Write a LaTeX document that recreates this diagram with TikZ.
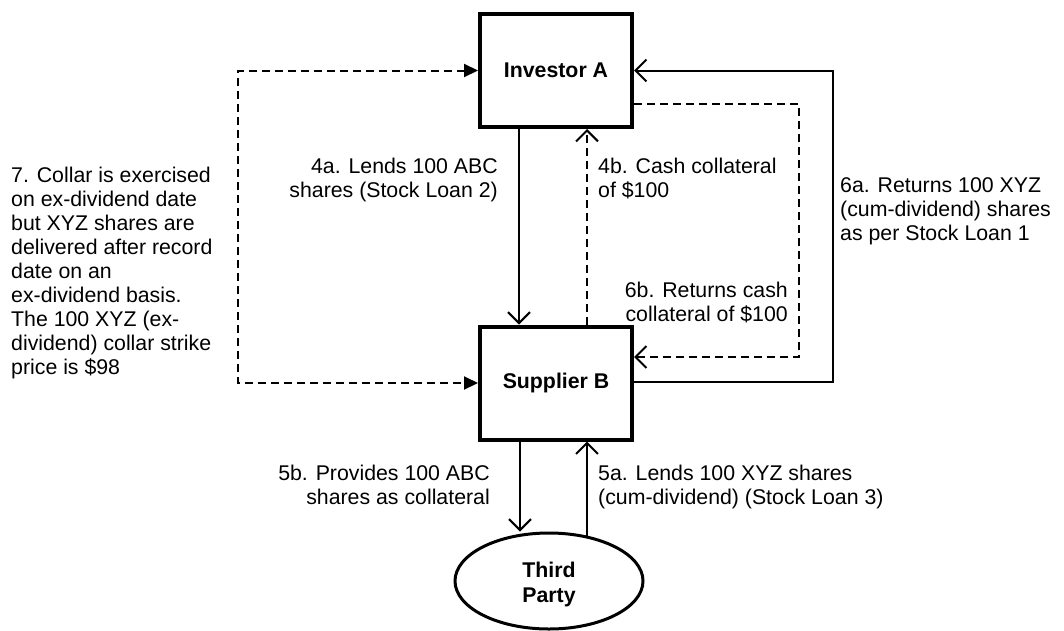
\documentclass[tikz,border=0pt]{standalone}
\usepackage{fontspec}
\setmainfont{Liberation Sans}
\usetikzlibrary{arrows.meta,shapes.geometric}
\tikzset{
  boxnode/.style={draw, line width=4pt, minimum width=152pt, minimum height=113pt, inner sep=0pt, font=\fontsize{21.3}{24}\selectfont\bfseries},
  ovalnode/.style={draw, ellipse, line width=3pt, minimum width=188pt, minimum height=96pt, inner sep=0pt, align=center, font=\fontsize{21.3}{25}\selectfont\bfseries},
  lbl/.style={inner sep=0pt, font=\fontsize{21.3}{24}\selectfont},
  conn/.style={line width=2pt, -{Straight Barb[length=11pt,width=22pt,line width=2pt]}},
  dashconn/.style={conn, dash pattern=on 8pt off 5pt},
  bothconn/.style={line width=2pt, dash pattern=on 8pt off 5pt, {Triangle[length=14pt,width=13pt]}-{Triangle[length=14pt,width=13pt]}}
}
\begin{document}
\begin{tikzpicture}[x=1pt,y=-1pt]
\useasboundingbox (0,0) rectangle (1064,630);
\node[boxnode] (ia) at (556,70.5) {Investor A};
\node[boxnode] (sb) at (556,383) {Supplier B};
\node[ovalnode] (tp) at (549,581) {\raisebox{-9pt}[0pt][0pt]{\begin{tabular}{@{}c@{}}Third\\Party\end{tabular}}};
\coordinate (ll) at (238,0);
\coordinate (rr) at (833,0);
\coordinate (rd) at (799,0);

% 4a and 4b
\draw[conn] ([xshift=-37pt]ia.south) -- ([xshift=-37pt]sb.north);
\draw[dashconn] ([xshift=31pt]sb.north) -- ([xshift=31pt]ia.south);
% 6a
\draw[conn] ([yshift=1pt]sb.east) -- ([yshift=1pt]sb.east -| rr) -- (ia.east -| rr) -- (ia.east);
% 6b
\draw[dashconn] ([yshift=-33.5pt]ia.east) -- ([yshift=-33.5pt]ia.east -| rd) -- ([yshift=26pt]sb.east -| rd) -- ([yshift=26pt]sb.east);
% 7
\draw[bothconn] (ia.west) -- (ia.west -| ll) -- (sb.west -| ll) -- (sb.west);
% 5b and 5a
\draw[conn] ([xshift=-36pt]sb.south) -- ([xshift=-36pt]sb.south |- tp.north);
\draw[conn, shorten <=-4pt] ([xshift=31pt]sb.south |- tp.north) -- ([xshift=31pt]sb.south);

% labels
\node[lbl, anchor=north east, align=right] (l4a) at (498,157.5) {4a. Lends 100 ABC\\shares (Stock Loan 2)};
\node[lbl, anchor=north west, align=left] (l4b) at (598,157.5) {4b. Cash collateral\\of \$100};
\node[lbl, anchor=north west, align=left] (l6a) at (840,177.5) {6a. Returns 100 XYZ\\(cum-dividend) shares\\as per Stock Loan 1};
\node[lbl, anchor=north east, align=right] (l6b) at (788,281.5) {6b. Returns cash\\collateral of \$100};
\node[lbl, anchor=north east, align=right] (l5b) at (490,464.5) {5b. Provides 100 ABC\\shares as collateral};
\node[lbl, anchor=north west, align=left] (l5a) at (598,464.5) {5a. Lends 100 XYZ shares\\(cum-dividend) (Stock Loan 3)};
\node[lbl, anchor=north west, align=left] (l7) at (11,166.5) {7. Collar is exercised\\on ex-dividend date\\but XYZ shares are\\delivered after record\\date on an\\ex-dividend basis.\\The 100 XYZ (ex-\\dividend) collar strike\\price is \$98};
\end{tikzpicture}
\end{document}
